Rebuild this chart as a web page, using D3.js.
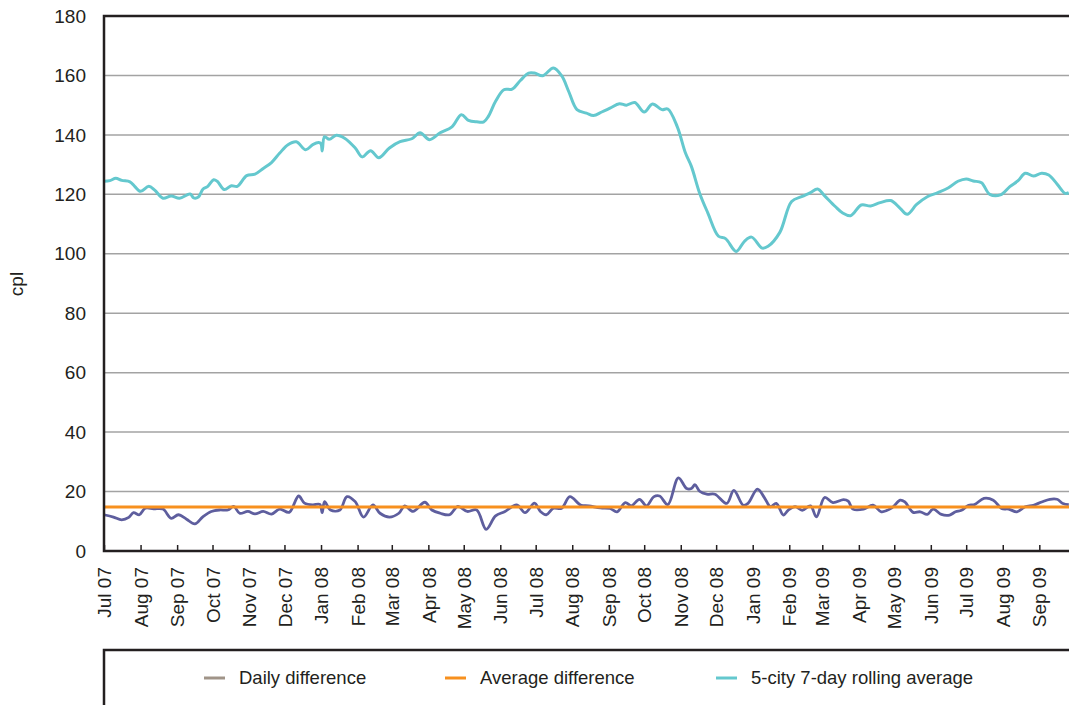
<!DOCTYPE html>
<html>
<head>
<meta charset="utf-8">
<script src="https://cdn.jsdelivr.net/npm/d3@7"></script>
<style>
  body { margin: 0; background: #fff; }
  svg { display: block; font-family: "Liberation Sans", Arial, sans-serif; }
</style>
</head>
<body>
<div id="chart"></div>
<script>
// month tick labels along the bottom
var monthLabels = ['Jul 07', 'Aug 07', 'Sep 07', 'Oct 07', 'Nov 07', 'Dec 07',
    'Jan 08', 'Feb 08', 'Mar 08', 'Apr 08', 'May 08', 'Jun 08', 'Jul 08', 'Aug 08',
    'Sep 08', 'Oct 08', 'Nov 08', 'Dec 08', 'Jan 09', 'Feb 09', 'Mar 09', 'Apr 09',
    'May 09', 'Jun 09', 'Jul 09', 'Aug 09', 'Sep 09'];
var yTicks = [0, 20, 40, 60, 80, 100, 120, 140, 160, 180];

// days counted from 1 Jul 2007
var rollingDays = [0, 5, 10, 15, 22, 26, 31, 38, 43, 50, 57, 64, 73, 76, 80, 84, 88, 93, 96,
    102, 108, 113, 121, 128, 135, 142, 149, 156, 163, 171, 177, 182, 184, 185, 187, 191, 197,
    204, 213, 219, 226, 233, 242, 251, 261, 268, 276, 285, 295, 303, 309, 316, 322, 326, 332,
    339, 346, 353, 360, 365, 372, 381, 388, 394, 401, 409, 415, 422, 429, 437, 443, 450, 458,
    465, 473, 478, 486, 493, 498, 505, 512, 521, 527, 536, 543, 549, 558, 563, 573, 583, 592,
    599, 605, 611, 620, 626, 633, 642, 650, 658, 667, 675, 681, 689, 698, 707, 716, 724, 731,
    737, 744, 751, 760, 768, 775, 781, 788, 795, 801, 808, 815, 818];
var rollingValues = [124.4, 124.6, 125.4, 124.7, 124.2, 122.7, 121.0, 122.7, 121.4, 118.7,
    119.4, 118.7, 120.1, 118.8, 119.1, 121.8, 122.7, 124.9, 124.4, 121.6, 122.9, 122.7, 126.3,
    126.8, 128.7, 130.7, 133.9, 136.7, 137.7, 135.0, 136.7, 137.4, 137.0, 134.6, 139.4, 138.5,
    139.9, 138.9, 135.6, 132.6, 134.7, 132.3, 135.6, 137.7, 138.7, 140.7, 138.4, 140.7, 142.7,
    146.8, 144.9, 144.4, 144.4, 146.3, 151.3, 155.2, 155.4, 158.3, 160.8, 160.8, 159.9, 162.5,
    159.9, 154.6, 148.5, 147.3, 146.5, 147.7, 149.0, 150.5, 150.0, 150.9, 147.7, 150.4, 148.5,
    148.7, 142.8, 133.9, 129.4, 120.4, 113.7, 105.9, 105.1, 100.8, 104.2, 105.6, 101.9, 102.5,
    107.2, 117.6, 119.3, 120.6, 121.8, 119.5, 115.9, 113.8, 112.8, 116.4, 116.1, 117.2, 117.9,
    115.3, 113.3, 116.6, 119.2, 120.6, 122.2, 124.4, 125.2, 124.5, 123.9, 120.0, 119.8, 122.6,
    124.6, 127.1, 126.2, 127.1, 126.5, 123.5, 120.3, 120.6];

var dailyDays = [0, 8, 15, 21, 25, 30, 35, 42, 50, 57, 63, 70, 77, 84, 91, 98, 105, 110, 115,
    122, 128, 135, 142, 149, 157, 165, 170, 177, 183, 185, 187, 192, 200, 206, 213, 220, 228,
    234, 242, 250, 255, 262, 272, 278, 285, 293, 300, 308, 316, 324, 332, 340, 350, 357, 365,
    370, 375, 381, 388, 395, 404, 411, 421, 429, 435, 442, 447, 454, 460, 466, 471, 478, 487,
    494, 498, 501, 505, 511, 518, 528, 534, 542, 546, 554, 560, 565, 570, 576, 580, 586, 592,
    599, 604, 611, 618, 627, 631, 635, 644, 652, 659, 668, 675, 679, 686, 692, 698, 703, 710,
    717, 722, 727, 733, 738, 746, 754, 761, 767, 774, 781, 788, 795, 802, 808, 813, 818];
var dailyValues = [12.2, 11.4, 10.5, 11.3, 12.9, 12.2, 14.4, 14.2, 14.1, 11.0, 12.2, 10.7,
    9.1, 11.6, 13.3, 13.8, 13.8, 15.0, 12.7, 13.3, 12.5, 13.3, 12.4, 14.1, 13.0, 18.5, 16.1,
    15.5, 15.7, 12.9, 16.6, 13.8, 13.8, 18.3, 16.6, 11.4, 15.5, 12.7, 11.4, 12.7, 15.2, 13.3,
    16.4, 13.8, 12.7, 12.2, 15.0, 13.3, 13.8, 7.3, 11.8, 13.3, 15.5, 12.9, 16.1, 13.3, 12.2,
    14.4, 14.4, 18.3, 15.5, 15.2, 14.5, 14.3, 13.2, 16.3, 15.2, 17.4, 15.2, 18.2, 18.5, 15.6,
    24.6, 21.0, 21.0, 22.3, 20.1, 19.1, 19.1, 16.0, 20.4, 15.4, 16.0, 20.8, 17.9, 14.9, 16.0,
    12.1, 13.7, 14.9, 13.7, 15.2, 11.5, 18.0, 16.3, 17.3, 16.8, 14.1, 14.1, 15.4, 13.2, 14.5,
    17.1, 16.5, 13.0, 13.2, 12.3, 14.1, 12.3, 12.1, 13.2, 13.7, 15.4, 15.6, 17.7, 17.1, 14.3,
    14.1, 13.2, 14.9, 15.4, 16.5, 17.4, 17.4, 16.0, 15.6];

var avgDifference = 14.8;

var seriesNames = ['Daily difference', 'Average difference', '5-city 7-day rolling average'];
var seriesColors = ['#a09488', '#f7901e', '#64c8ce'];

var width = 1069, height = 705;
var margin = { top: 16, left: 104, bottom: 551 };
var startDate = new Date(2007, 6, 1);
var endDate = new Date(2009, 9, 1);

var svg = d3.select('#chart').append('svg')
    .attr('width', width)
    .attr('height', height);

var x = d3.scaleTime().domain([startDate, endDate]).range([margin.left, 1074.7]);
var y = d3.scaleLinear().domain([0, 180]).range([margin.bottom, margin.top]);

var dayToDate = function(d) { return d3.timeDay.offset(startDate, d); };
var parseMonth = d3.timeParse('%b %y');
var monthDates = monthLabels.map(function(m) { return parseMonth(m); });

/* gridlines */
svg.append('g')
    .selectAll('line')
    .data(yTicks.filter(function(t) { return t > 0 && t < 180; }))
    .enter().append('line')
    .attr('x1', margin.left)
    .attr('x2', width)
    .attr('y1', function(d) { return y(d); })
    .attr('y2', function(d) { return y(d); })
    .attr('stroke', '#a3a3a3')
    .attr('stroke-width', 1.5);

/* y axis labels */
svg.append('g')
    .selectAll('text')
    .data(yTicks)
    .enter().append('text')
    .attr('x', 86)
    .attr('y', function(d) { return y(d); })
    .attr('dy', '0.35em')
    .style('text-anchor', 'end')
    .style('font-size', '19px')
    .attr('fill', '#231f20')
    .text(function(d) { return d; });

svg.append('text')
    .attr('transform', 'translate(23,284) rotate(-90)')
    .style('text-anchor', 'middle')
    .style('font-size', '19px')
    .attr('fill', '#231f20')
    .text('cpl');

/* x axis: inner ticks and rotated labels */
var xAxis = d3.axisBottom(x)
    .tickValues(monthDates)
    .tickSizeInner(-6)
    .tickSizeOuter(0)
    .tickFormat(function(d, i) { return monthLabels[i]; });

var gx = svg.append('g')
    .attr('transform', 'translate(0,' + margin.bottom + ')')
    .call(xAxis);
gx.select('.domain').remove();
gx.selectAll('.tick line').attr('stroke', '#231f20').attr('stroke-width', 1.5);
gx.selectAll('.tick text')
    .attr('transform', 'rotate(-90)')
    .attr('x', -16)
    .attr('y', 0)
    .attr('dy', '0.35em')
    .style('text-anchor', 'end')
    .style('font-size', '19px')
    .style('font-family', '"Liberation Sans", Arial, sans-serif')
    .attr('fill', '#231f20');

/* lines */
var line = d3.line()
    .x(function(d) { return x(d[0]); })
    .y(function(d) { return y(d[1]); });

var smoothLine = d3.line()
    .curve(d3.curveCatmullRom.alpha(0.5))
    .x(function(d) { return x(d[0]); })
    .y(function(d) { return y(d[1]); });

var rolling = rollingDays.map(function(d, i) { return [dayToDate(d), rollingValues[i]]; });
var daily = dailyDays.map(function(d, i) { return [dayToDate(d), dailyValues[i]]; });
var average = [[startDate, avgDifference], [endDate, avgDifference]];

svg.append('path')
    .datum(daily)
    .attr('d', smoothLine)
    .attr('fill', 'none')
    .attr('stroke', '#5e5e9e')
    .attr('stroke-width', 2.8)
    .attr('stroke-linejoin', 'round');

svg.append('path')
    .datum(average)
    .attr('d', line)
    .attr('fill', 'none')
    .attr('stroke', seriesColors[1])
    .attr('stroke-width', 3);

svg.append('path')
    .datum(rolling)
    .attr('d', smoothLine)
    .attr('fill', 'none')
    .attr('stroke', seriesColors[2])
    .attr('stroke-width', 3)
    .attr('stroke-linejoin', 'round');

/* frame */
svg.append('path')
    .attr('d', 'M' + width + ',' + margin.top + 'H' + margin.left + 'V' + margin.bottom + 'H' + width)
    .attr('fill', 'none')
    .attr('stroke', '#231f20')
    .attr('stroke-width', 2.5);

/* legend box */
svg.append('path')
    .attr('d', 'M' + margin.left + ',' + height + 'V650H' + width)
    .attr('fill', 'none')
    .attr('stroke', '#231f20')
    .attr('stroke-width', 2.5);

var legendX = [204, 445, 716];
var legend = svg.append('g')
    .selectAll('g')
    .data(seriesNames)
    .enter().append('g')
    .attr('transform', function(d, i) { return 'translate(' + legendX[i] + ',678)'; });

legend.append('line')
    .attr('x1', 0)
    .attr('x2', 21)
    .attr('stroke', function(d, i) { return seriesColors[i]; })
    .attr('stroke-width', 3);

legend.append('text')
    .attr('x', 35)
    .attr('dy', '0.35em')
    .style('font-size', '18.5px')
    .attr('fill', '#231f20')
    .text(function(d) { return d; });
</script>
</body>
</html>
